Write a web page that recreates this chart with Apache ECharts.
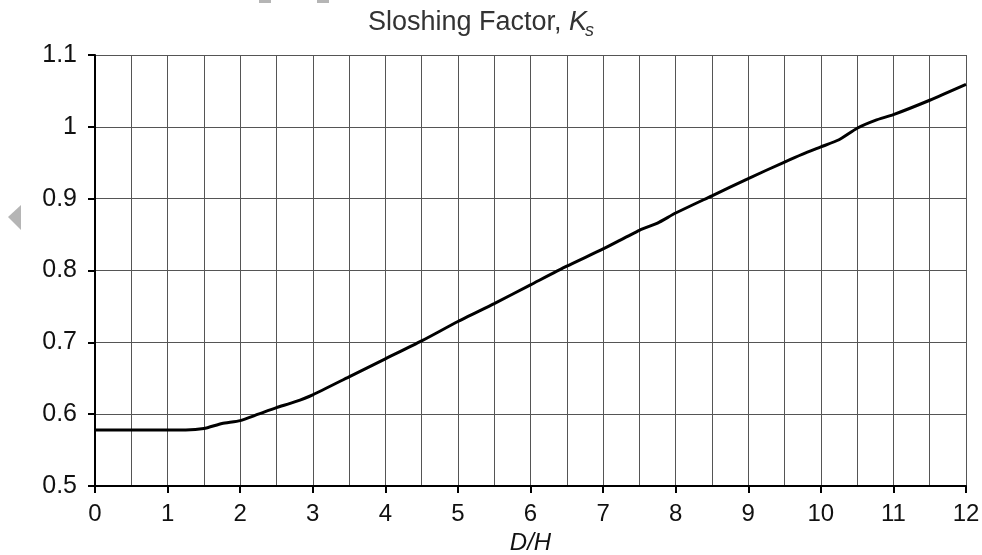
<!DOCTYPE html>
<html>
<head>
<meta charset="utf-8">
<script src="https://cdn.jsdelivr.net/npm/echarts@6/dist/echarts.min.js"></script>
<style>html,body{margin:0;padding:0;background:#fff}#c{width:982px;height:555px}</style>
</head>
<body>
<div id="c"></div>
<script>
const ratioDH = [0, 0.5, 1, 1.25, 1.5, 1.75, 2, 2.25, 2.5, 2.75, 3, 3.5, 4, 4.5, 5, 5.5, 6, 6.5, 7, 7.5, 7.75, 8, 8.5, 9, 9.5, 9.75, 10, 10.25, 10.5, 10.75, 11, 11.5, 12];
const sloshingKs = [0.578, 0.578, 0.578, 0.578, 0.580, 0.587, 0.591, 0.600, 0.609, 0.617, 0.627, 0.652, 0.677, 0.702, 0.729, 0.754, 0.780, 0.806, 0.830, 0.856, 0.866, 0.880, 0.904, 0.928, 0.951, 0.962, 0.972, 0.982, 0.998, 1.009, 1.017, 1.037, 1.059];
const titleMain = 'Sloshing Factor, ';
const titleSym = 'K';
const titleSub = 's';
const xName = 'D/H';

const FONT = '"Liberation Sans", Arial, sans-serif';
const chart = echarts.init(document.getElementById('c'), null, {renderer: 'canvas'});
const gridStyle = {color: '#555', width: 1};
chart.setOption({
  animation: false,
  backgroundColor: '#fff',
  grid: {left: 95, right: 16, top: 55, bottom: 69, containLabel: false, outerBoundsMode: 'none'},
  xAxis: {
    type: 'value', min: 0, max: 12, interval: 1,
    name: xName, nameLocation: 'middle', nameGap: 36,
    nameTextStyle: {fontFamily: FONT, fontSize: 24, fontStyle: 'italic', color: '#111'},
    axisLine: {show: true, onZero: false, lineStyle: {color: '#000', width: 2}},
    axisTick: {show: true, length: 7, lineStyle: {color: '#000', width: 2}},
    axisLabel: {fontFamily: FONT, fontSize: 24, color: '#111', margin: 16},
    splitLine: {show: true, lineStyle: gridStyle},
    minorTick: {show: false, splitNumber: 2},
    minorSplitLine: {show: true, lineStyle: gridStyle}
  },
  yAxis: {
    type: 'value', min: 0.5, max: 1.1, interval: 0.1,
    axisLine: {show: true, onZero: false, lineStyle: {color: '#000', width: 2}},
    axisTick: {show: true, length: 7, lineStyle: {color: '#000', width: 2}},
    axisLabel: {fontFamily: FONT, fontSize: 25, color: '#111', margin: 18,
      formatter: v => String(Math.round(v * 10) / 10)},
    splitLine: {show: true, lineStyle: gridStyle}
  },
  series: [{
    type: 'line',
    data: ratioDH.map((x, i) => [x, sloshingKs[i]]),
    showSymbol: false, symbol: 'none', smooth: 0.2,
    lineStyle: {color: '#000', width: 3}
  }],
  graphic: [
    {type: 'text', left: 368, top: 9, style: {text: titleMain, font: '27px ' + FONT, fill: '#333'}},
    {type: 'text', left: 569, top: 9, style: {text: titleSym, font: 'italic 27px ' + FONT, fill: '#333'}},
    {type: 'text', left: 585, top: 22, style: {text: titleSub, font: 'italic 18px ' + FONT, fill: '#333'}},
    {type: 'polygon', shape: {points: [[8, 217], [21, 205], [21, 230]]}, style: {fill: '#b5b5b5'}},
    {type: 'rect', shape: {x: 259, y: 0, width: 12, height: 3}, style: {fill: '#b5b5b5'}},
    {type: 'rect', shape: {x: 317, y: 0, width: 12, height: 3}, style: {fill: '#b5b5b5'}}
  ]
});
</script>
</body>
</html>
